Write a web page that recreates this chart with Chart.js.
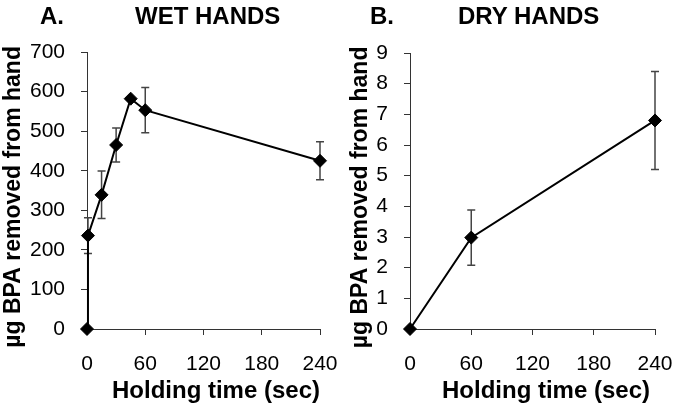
<!DOCTYPE html>
<html>
<head>
<meta charset="utf-8">
<script src="https://cdn.jsdelivr.net/npm/chart.js@4.4.1/dist/chart.umd.min.js"></script>
<style>
  body { margin: 0; background: #fff; }
  #wrap { position: relative; width: 679px; height: 411px; font-family: 'Liberation Sans', Arial, sans-serif; }
  canvas { position: absolute; top: 0; }
  .lbl { position: absolute; font-weight: bold; font-size: 24px; line-height: 24px; color: #000; white-space: nowrap; }
  .xt { width: 300px; text-align: center; top: 378px; }
</style>
</head>
<body>
<div id="wrap">
  <canvas id="wet" width="340" height="411" style="left:0"></canvas>
  <canvas id="dry" width="339" height="411" style="left:340px"></canvas>
  <div class="lbl" style="left:40px;top:4px">A.</div>
  <div class="lbl" style="left:135px;top:4px">WET HANDS</div>
  <div class="lbl" style="left:370px;top:4px">B.</div>
  <div class="lbl" style="left:458px;top:4px">DRY HANDS</div>
  <div class="lbl xt" style="left:66px">Holding time (sec)</div>
  <div class="lbl xt" style="left:396px">Holding time (sec)</div>
</div>
<script>
// data
const xTicks = [0, 60, 120, 180, 240];

const wetTime = [0, 1, 15, 30, 45, 60, 240];
const wetBPA = [0, 236, 339, 465, 582, 553, 425];
const wetErr = [0, 45, 60, 43, 0, 57, 48];

const dryTime = [0, 60, 240];
const dryBPA = [0, 2.98, 6.8];
const dryErr = [0, 0.9, 1.6];

// trailing spaces nudge the rotated title a little lower, as in the original
const yTitle = 'µg BPA removed from hand  ';

Chart.defaults.font.family = "'Liberation Sans', Arial, sans-serif";
Chart.defaults.color = '#000';

// error bars drawn from the chart's own scales
const errorBars = {
  id: 'errorBars',
  beforeDatasetsDraw(chart, args, opts) {
    const { ctx, scales: { x, y } } = chart;
    const pts = chart.data.datasets[0].data;
    ctx.save();
    ctx.strokeStyle = '#444';
    ctx.lineWidth = 1.5;
    pts.forEach((p, i) => {
      const e = opts.err[i];
      if (!e) return;
      const px = x.getPixelForValue(p.x);
      const top = y.getPixelForValue(p.y + e);
      const bot = y.getPixelForValue(p.y - e);
      ctx.beginPath();
      ctx.moveTo(px, top); ctx.lineTo(px, bot);
      ctx.moveTo(px - 4, top); ctx.lineTo(px + 4, top);
      ctx.moveTo(px - 4, bot); ctx.lineTo(px + 4, bot);
      ctx.stroke();
    });
    ctx.restore();
  }
};

function makeChart(id, times, vals, errs, yMax, step, pad, yWidth) {
  const ctx = document.getElementById(id).getContext('2d');
  return new Chart(ctx, {
    type: 'scatter',
    data: {
      datasets: [{
        data: times.map((t, i) => ({ x: t, y: vals[i] })),
        showLine: true,
        borderColor: '#000',
        borderWidth: 2,
        pointStyle: 'rectRot',
        pointRadius: 6.5,
        pointBackgroundColor: '#000',
        pointBorderColor: '#000',
        pointBorderWidth: 1,
        clip: false
      }]
    },
    plugins: [errorBars],
    options: {
      responsive: false,
      animation: false,
      layout: { padding: pad },
      plugins: {
        legend: { display: false },
        tooltip: { enabled: false },
        errorBars: { err: errs }
      },
      scales: {
        x: {
          type: 'linear',
          min: 0,
          max: 240,
          afterBuildTicks: s => { s.ticks = xTicks.map(v => ({ value: v })); },
          afterFit: s => { s.height = 82; s.paddingLeft = 0; s.paddingRight = 0; },
          ticks: { font: { size: 21 }, padding: 17, color: '#000' },
          grid: { drawOnChartArea: false, tickLength: 6, color: '#333' },
          border: { color: '#333', width: 1 }
        },
        y: {
          min: 0,
          max: yMax,
          afterFit: s => { s.width = yWidth; },
          ticks: { stepSize: step, font: { size: 21 }, padding: 16, color: '#000' },
          grid: { drawOnChartArea: false, tickLength: 6, color: '#333' },
          border: { color: '#333', width: 1 },
          title: {
            display: true,
            text: yTitle,
            font: { size: 23, weight: 'bold' },
            color: '#000',
            padding: 0
          }
        }
      }
    }
  });
}

makeChart('wet', wetTime, wetBPA, wetErr, 700, 100, { left: 0, right: 20, top: 52, bottom: 0 }, 87);
makeChart('dry', dryTime, dryBPA, dryErr, 9, 1, { left: 7, right: 24, top: 53, bottom: 0 }, 63);
</script>
</body>
</html>
